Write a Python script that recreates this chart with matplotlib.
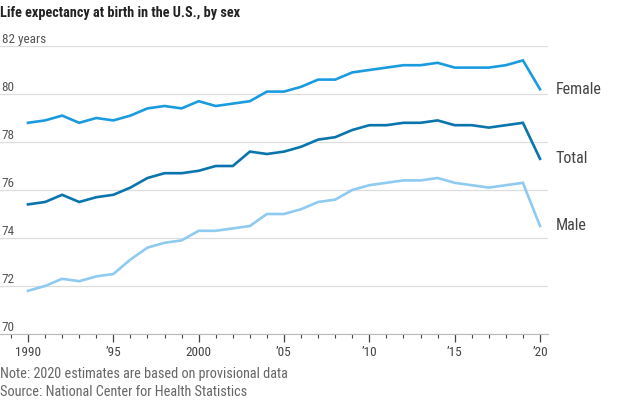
import os
import matplotlib
matplotlib.use("Agg")
import matplotlib.pyplot as plt
from matplotlib import font_manager as fm
from matplotlib.ticker import MultipleLocator, FixedLocator

years = list(range(1990, 2021))
female = [78.8, 78.9, 79.1, 78.8, 79.0, 78.9, 79.1, 79.4, 79.5, 79.4,
          79.7, 79.5, 79.6, 79.7, 80.1, 80.1, 80.3, 80.6, 80.6, 80.9,
          81.0, 81.1, 81.2, 81.2, 81.3, 81.1, 81.1, 81.1, 81.2, 81.4, 80.2]
total = [75.4, 75.5, 75.8, 75.5, 75.7, 75.8, 76.1, 76.5, 76.7, 76.7,
         76.8, 77.0, 77.0, 77.6, 77.5, 77.6, 77.8, 78.1, 78.2, 78.5,
         78.7, 78.7, 78.8, 78.8, 78.9, 78.7, 78.7, 78.6, 78.7, 78.8, 77.3]
male = [71.8, 72.0, 72.3, 72.2, 72.4, 72.5, 73.1, 73.6, 73.8, 73.9,
        74.3, 74.3, 74.4, 74.5, 75.0, 75.0, 75.2, 75.5, 75.6, 76.0,
        76.2, 76.3, 76.4, 76.4, 76.5, 76.3, 76.2, 76.1, 76.2, 76.3, 74.5]
series_names = ["Female", "Total", "Male"]
y_ticks = [70, 72, 74, 76, 78, 80, 82]
y_labels = ["70", "72", "74", "76", "78", "80", "82 years"]
x_ticks = [1990, 1995, 2000, 2005, 2010, 2015, 2020]
x_labels = ["1990", "\u201995", "2000", "\u201905", "\u201910", "\u201915", "\u201920"]
title = "Life expectancy at birth in the U.S., by sex"
note = "Note: 2020 estimates are based on provisional data"
source = "Source: National Center for Health Statistics"

# pick a narrow / condensed sans if one is installed
files = {os.path.basename(f.fname): f.fname for f in fm.fontManager.ttflist}
candidates = [
    ("LiberationSansNarrow-Regular.ttf", "LiberationSansNarrow-Bold.ttf"),
    ("RobotoCondensed-Regular.ttf", "RobotoCondensed-Bold.ttf"),
    ("NotoSans-Condensed.ttf", "NotoSans-CondensedBold.ttf"),
    ("OpenSans-CondensedRegular.ttf", "OpenSans-CondensedBold.ttf"),
    ("DejaVuSansCondensed.ttf", "DejaVuSansCondensed-Bold.ttf"),
]
reg_path = bold_path = None
for r, b in candidates:
    if r in files and b in files:
        reg_path, bold_path = files[r], files[b]
        break


def fp(size, bold=False):
    if reg_path:
        return fm.FontProperties(fname=bold_path if bold else reg_path, size=size)
    return fm.FontProperties(family="Liberation Sans", size=size,
                             weight="bold" if bold else "normal")


fig = plt.figure(figsize=(6.2, 4.0), dpi=100)
ax = fig.add_axes([0.0, 0.165, 548 / 620, 0.72])

colors = {"Female": "#1a9be0", "Total": "#0a74ad", "Male": "#8fcaf0"}
data = {"Female": female, "Total": total, "Male": male}
for name in series_names:
    ax.plot(years, data[name], color=colors[name], lw=1.9, solid_joinstyle="miter",
            clip_on=False, zorder=3)
    ax.annotate(name, xy=(years[-1], data[name][-1]), xytext=(11, 0),
                textcoords="offset points", va="center", ha="left",
                fontproperties=fp(11.5), color="#444444", annotation_clip=False)

ax.set_xlim(1990 - 28 / 17.07, 2020 + 8 / 17.07)
ax.set_ylim(70, 82)

for sp in ["top", "right", "left"]:
    ax.spines[sp].set_visible(False)
ax.spines["bottom"].set_color("#bbbbbb")
ax.spines["bottom"].set_linewidth(0.8)

ax.yaxis.set_major_locator(FixedLocator(y_ticks))
ax.set_yticklabels([])
ax.tick_params(axis="y", length=0)
ax.grid(axis="y", color="#dddddd", lw=0.9, zorder=0)
for v, lab in zip(y_ticks, y_labels):
    ax.annotate(lab, xy=(0.003, v), xycoords=ax.get_yaxis_transform(),
                xytext=(0, 2.5), textcoords="offset points", ha="left",
                va="baseline", fontproperties=fp(9.5), color="#555555")

ax.set_xticks(x_ticks)
ax.set_xticklabels(x_labels)
for t in ax.get_xticklabels():
    t.set_fontproperties(fp(9.5))
    t.set_color("#444444")
ax.xaxis.set_minor_locator(MultipleLocator(1))
ax.tick_params(axis="x", which="major", length=6, width=0.9, color="#444444", pad=3)
ax.tick_params(axis="x", which="minor", length=3, width=0.8, color="#444444")

fig.text(0.0, 0.985, title, ha="left", va="top", fontproperties=fp(10.3, bold=True),
         color="#222222")
fig.text(0.0, 0.065, note, ha="left", va="center", fontproperties=fp(10.3), color="#666666")
fig.text(0.0, 0.02, source, ha="left", va="center", fontproperties=fp(10.3), color="#666666")

fig.savefig("out.png", dpi=100)
